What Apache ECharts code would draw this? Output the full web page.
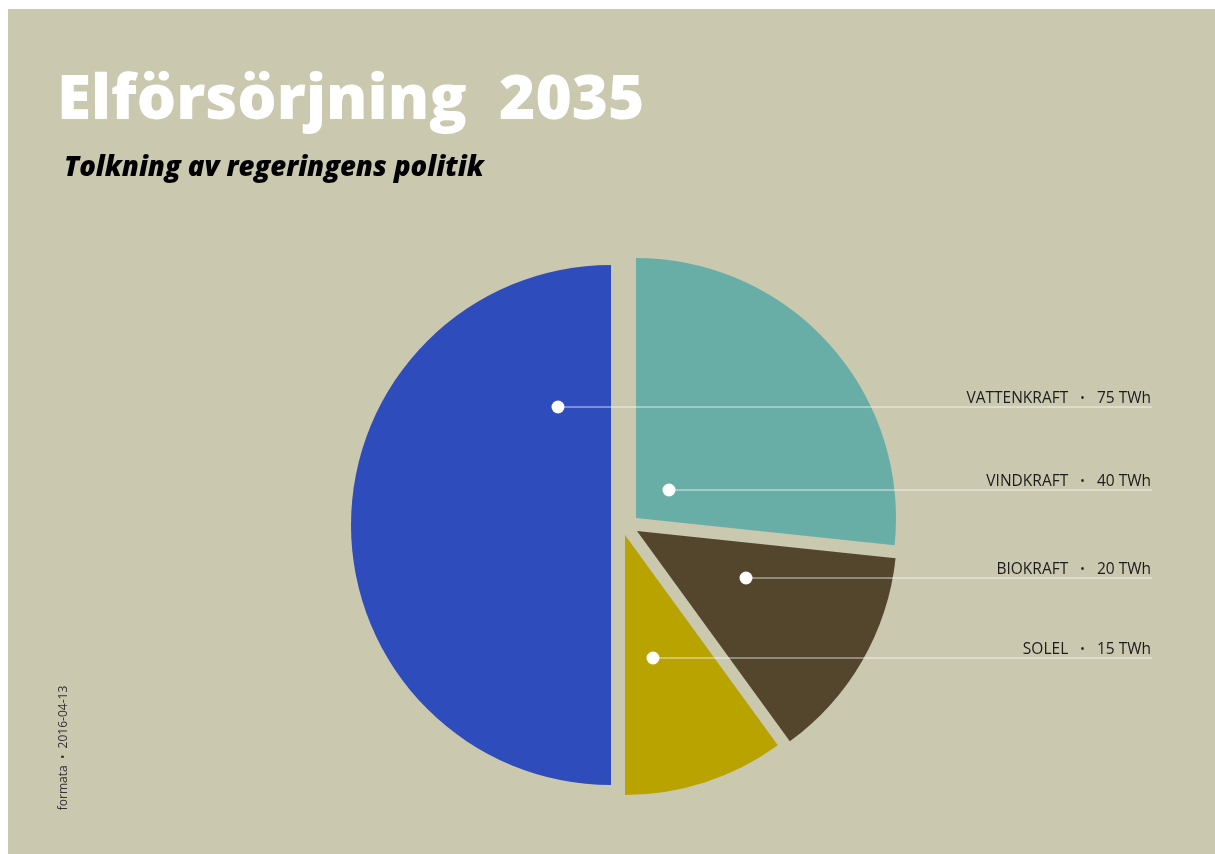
<!DOCTYPE html>
<html><head><meta charset="utf-8">
<script src="https://cdn.jsdelivr.net/npm/echarts@6/dist/echarts.min.js"></script>
<style>
html,body{margin:0;padding:0;background:#fff}
#main{width:1215px;height:854px;background:linear-gradient(#fff,#fff) top left/100% 9px no-repeat, linear-gradient(#fff,#fff) top left/8px 100% no-repeat, #CBC8B0;}
</style></head><body><div id="main"></div>
<script>
// ---- data ----
const categories = ['VATTENKRAFT', 'VINDKRAFT', 'BIOKRAFT', 'SOLEL'];
const valuesTWh = [75, 40, 20, 15];
const unit = 'TWh';
const titleText = 'Elförsörjning  2035';
const subtitleText = 'Tolkning av regeringens politik';
const footerText = 'formata  •  2016-04-13';

// ---- styles / layout ----
const colors = ['#2E4CBB', '#68AEA6', '#53462C', '#B8A300'];
const radius = 260;
const sliceCenters = [[611, 525], [636, 518], [637, 531], [625, 535]];
const labelRowY = [407, 490, 578, 658];
const dotX = [558, 669, 746, 653];
const labelRightX = 1151;

const chart = echarts.init(document.getElementById('main'), null, {renderer: 'canvas'});

// one pie series per slice (each slice offset to its own centre)
const sliceSeries = categories.map((cat, i) => ({
  type: 'pie',
  silent: true,
  animation: false,
  startAngle: 270,
  clockwise: true,
  radius: radius,
  center: sliceCenters[i],
  z: 2,
  label: {show: false},
  labelLine: {show: false},
  data: categories.map((c, j) => ({
    name: c,
    value: valuesTWh[j],
    itemStyle: {color: j === i ? colors[j] : 'rgba(0,0,0,0)'}
  }))
}));

// transparent pie on top carrying the labels and leader lines
const labelSeries = {
  type: 'pie',
  silent: true,
  animation: false,
  startAngle: 270,
  clockwise: true,
  radius: radius,
  center: sliceCenters[0],
  z: 10,
  avoidLabelOverlap: false,
  data: categories.map((c, j) => ({name: c, value: valuesTWh[j], itemStyle: {color: 'rgba(0,0,0,0)'}})),
  label: {
    show: true,
    position: 'outside',
    formatter: p => p.name + '   {s|•}   ' + p.value + ' ' + unit,
    color: '#1c1c1c',
    fontSize: 15.5,
    fontFamily: 'Open Sans',
    rich: {s: {fontSize: 12, color: '#1c1c1c', fontFamily: 'Open Sans'}}
  },
  labelLine: {show: true, lineStyle: {color: 'rgba(255,255,255,0.75)', width: 1}},
  labelLayout: p => {
    const k = p.dataIndex;
    const y = labelRowY[k];
    return {
      x: labelRightX, y: y, align: 'right', verticalAlign: 'bottom',
      labelLinePoints: [[dotX[k], y], [dotX[k] + 1, y], [labelRightX + 1, y]]
    };
  }
};

chart.setOption({
  backgroundColor: 'transparent',
  title: [
    {text: titleText, left: 52, top: 65,
     textStyle: {color: '#fff', fontSize: 62, fontWeight: 800, fontFamily: 'Open Sans'}},
    {text: subtitleText, left: 59, top: 150,
     textStyle: {color: '#000', fontSize: 27.5, fontWeight: 800, fontStyle: 'italic', fontFamily: 'Open Sans'}}
  ],
  graphic: categories.map((c, i) => ({
    type: 'circle', z: 100,
    shape: {cx: dotX[i], cy: labelRowY[i], r: 6.5},
    style: {fill: '#fff'}
  })).concat([{
    type: 'text', z: 100, x: 64, y: 748, rotation: Math.PI / 2,
    style: {text: footerText, fill: '#333', fontSize: 12, fontFamily: 'Open Sans', align: 'center', verticalAlign: 'middle'}
  }]),
  series: sliceSeries.concat([labelSeries])
});
</script></body></html>
